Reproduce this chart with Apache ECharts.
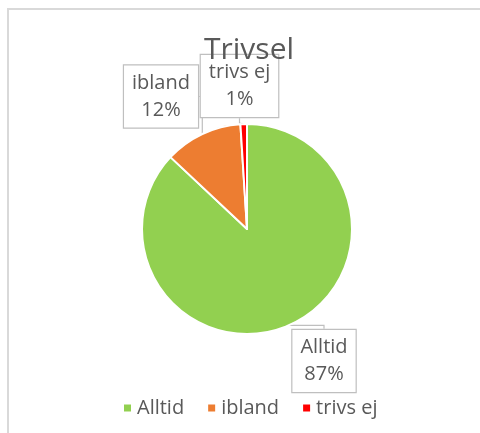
<!DOCTYPE html>
<html><head><meta charset="utf-8">
<script src="https://cdn.jsdelivr.net/npm/echarts@6/dist/echarts.min.js"></script>
<style>html,body{margin:0;padding:0;background:#fff}#c{width:480px;height:433px}</style>
</head><body><div id="c"></div>
<script>
const categories = ['Alltid', 'ibland', 'trivs ej'];
const values = [87, 12, 1];
const colors = ['#92d050', '#ed7d31', '#ff0000'];
const titleText = 'Trivsel';

// label box centers (layout only)
const labelCenters = [[324, 361], [161, 96.5], [239.5, 86]];

const font = 'Open Sans';
const chart = echarts.init(document.getElementById('c'));
chart.setOption({
  animation: false,
  title: {
    text: titleText, left: 199, top: 30, z: 10,
    textStyle: { fontFamily: font, fontSize: 30, fontWeight: 'normal', color: '#595959' }
  },
  graphic: [{
    type: 'polyline', z: 0,
    shape: { points: [[8, 433], [8, 9], [480, 9]] },
    style: { stroke: '#d9d9d9', lineWidth: 2, fill: null }
  }],
  legend: {
    left: 117, top: 393, icon: 'rect', itemWidth: 9, itemHeight: 9, itemGap: 22,
    textStyle: { fontFamily: font, fontSize: 20, color: '#595959' },
    data: categories
  },
  series: [{
    type: 'pie',
    center: [247, 229], radius: 105,
    startAngle: 90, clockwise: true,
    itemStyle: { borderColor: '#fff', borderWidth: 2 },
    label: {
      show: true, position: 'outside',
      formatter: '{b}\n{d}%',
      fontFamily: font, fontSize: 20, color: '#595959', lineHeight: 27,
      backgroundColor: '#fff', borderColor: '#bfbfbf', borderWidth: 1.2,
      padding: [4, 8], align: 'center'
    },
    labelLine: { show: true, length: 5, length2: 5, lineStyle: { color: '#bfbfbf', width: 1.2 } },
    labelLayout: function (p) {
      const c = labelCenters[p.dataIndex];
      return { x: c[0], y: c[1], align: 'center', verticalAlign: 'middle' };
    },
    data: categories.map((n, i) => ({ name: n, value: values[i], itemStyle: { color: colors[i] } }))
  }]
});
</script></body></html>
